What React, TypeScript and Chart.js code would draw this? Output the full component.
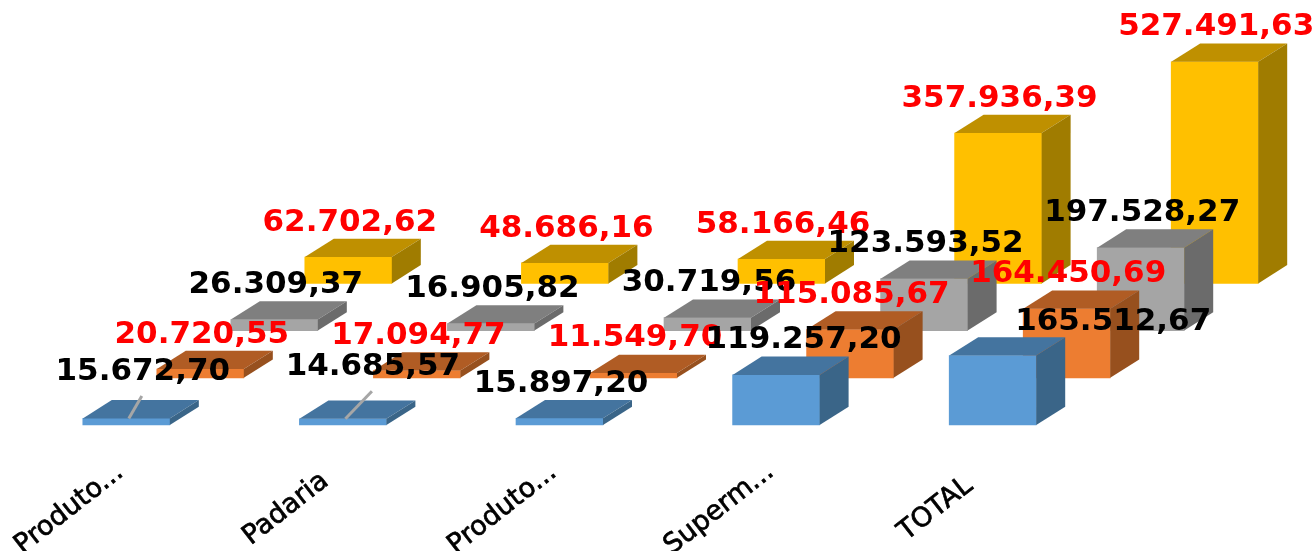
import React, { useEffect, useRef } from "react";
import { Chart, registerables } from "chart.js";

Chart.register(...registerables);

const categories = ["Produto...", "Padaria", "Produto...", "Superm...", "TOTAL"];
const blueValues = [15672.7, 14685.57, 15897.2, 119257.2, 165512.67];
const orangeValues = [20720.55, 17094.77, 11549.7, 115085.67, 164450.69];
const grayValues = [26309.37, 16905.82, 30719.56, 123593.52, 197528.27];
const yellowValues = [62702.62, 48686.16, 58166.46, 357936.39, 527491.63];

const FONT = '"DejaVu Sans", Verdana, sans-serif';
const SERIES_DX = 74;
const SERIES_DY = -47.2;
const BOX_DX = 29;
const BOX_DY = -18.3;
const LABEL_DX = 1.5;
const LABEL_DY = -34.5;

const styles = [
  { front: "#5B9BD5", top: "#44749F", side: "#3A6588", label: "#000000" },
  { front: "#ED7D31", top: "#B05C24", side: "#97501E", label: "#FF0000" },
  { front: "#A5A5A5", top: "#7F7F7F", side: "#6B6B6B", label: "#000000" },
  { front: "#FFC000", top: "#BF9000", side: "#A07C00", label: "#FF0000" },
];

// Manually dragged data labels of the front series: shift from the default place.
const frontLabelShift = [
  [15, -12],
  [28.5, -17],
  [0, 0],
  [26, 0],
  [119, 1],
];
const leaderCategories = [0, 1];

const fmt = (v: number) =>
  v.toLocaleString("pt-BR", { minimumFractionDigits: 2, maximumFractionDigits: 2 });

const box3d = {
  id: "box3d",
  beforeDatasetDraw(chart: any, args: any) {
    const ctx = chart.ctx;
    ctx.save();
    ctx.translate(args.index * SERIES_DX, args.index * SERIES_DY);
  },
  afterDatasetDraw(chart: any, args: any) {
    const ctx = chart.ctx;
    const st = styles[args.index];
    args.meta.data.forEach((bar: any) => {
      const l = bar.x - bar.width / 2;
      const r = bar.x + bar.width / 2;
      ctx.fillStyle = st.top;
      ctx.beginPath();
      ctx.moveTo(l, bar.y);
      ctx.lineTo(l + BOX_DX, bar.y + BOX_DY);
      ctx.lineTo(r + BOX_DX, bar.y + BOX_DY);
      ctx.lineTo(r, bar.y);
      ctx.closePath();
      ctx.fill();
      ctx.fillStyle = st.side;
      ctx.beginPath();
      ctx.moveTo(r, bar.y);
      ctx.lineTo(r + BOX_DX, bar.y + BOX_DY);
      ctx.lineTo(r + BOX_DX, bar.base + BOX_DY);
      ctx.lineTo(r, bar.base);
      ctx.closePath();
      ctx.fill();
    });
    ctx.restore();
  },
  afterDatasetsDraw(chart: any) {
    const ctx = chart.ctx;
    ctx.save();
    ctx.textAlign = "center";
    ctx.textBaseline = "middle";
    // leader lines
    const front = chart.getDatasetMeta(0).data;
    ctx.strokeStyle = "#A6A6A6";
    ctx.lineWidth = 3;
    leaderCategories.forEach((i) => {
      const bar = front[i];
      const [sx, sy] = frontLabelShift[i];
      ctx.beginPath();
      ctx.moveTo(bar.x + 2.5, bar.y);
      ctx.lineTo(bar.x + sx + 0.5, bar.y - 34.5 + sy + 24);
      ctx.stroke();
    });
    // data labels
    ctx.font = `bold 31px ${FONT}`;
    for (let d = chart.data.datasets.length - 1; d >= 0; d--) {
      const meta = chart.getDatasetMeta(d);
      ctx.fillStyle = styles[d].label;
      meta.data.forEach((bar: any, i: number) => {
        const shift = d === 0 ? frontLabelShift[i] : [0, 0];
        const x = bar.x + d * SERIES_DX + LABEL_DX + shift[0];
        const y = bar.y + d * SERIES_DY + LABEL_DY + shift[1];
        ctx.fillText(fmt(chart.data.datasets[d].data[i]), x, y);
      });
    }
    // category labels
    const xScale = chart.scales.x;
    ctx.fillStyle = "#000000";
    ctx.strokeStyle = "#000000";
    ctx.lineWidth = 0.7;
    ctx.font = `27px ${FONT}`;
    categories.forEach((label, i) => {
      ctx.save();
      ctx.translate(xScale.getPixelForTick(i) - 57, 509);
      ctx.rotate((-38 * Math.PI) / 180);
      ctx.fillText(label, 0, 0);
      ctx.strokeText(label, 0, 0);
      ctx.restore();
    });
    ctx.restore();
  },
};

export default function App() {
  const ref = useRef<HTMLCanvasElement>(null);
  useEffect(() => {
    if (!ref.current) return;
    const series = [blueValues, orangeValues, grayValues, yellowValues];
    const chart = new Chart(ref.current, {
      type: "bar",
      data: {
        labels: categories,
        datasets: series.map((data, i) => ({
          data,
          backgroundColor: styles[i].front,
          borderWidth: 0,
          barThickness: 87,
          grouped: false,
          clip: false,
        })),
      },
      options: {
        responsive: false,
        animation: false,
        layout: { padding: { left: 18, right: 213, top: 0, bottom: 126 } },
        plugins: { legend: { display: false }, tooltip: { enabled: false } },
        scales: {
          x: { display: false },
          y: { display: false, min: 0, max: 1012000 },
        },
      },
      plugins: [box3d],
    } as any);
    return () => chart.destroy();
  }, []);
  return (
    <div style={{ position: "absolute", left: 0, top: 0, width: 1314, height: 551, overflow: "hidden", background: "#fff" }}>
      <canvas ref={ref} width={1314} height={551} style={{ display: "block", filter: "blur(0.6px)" }} />
    </div>
  );
}
